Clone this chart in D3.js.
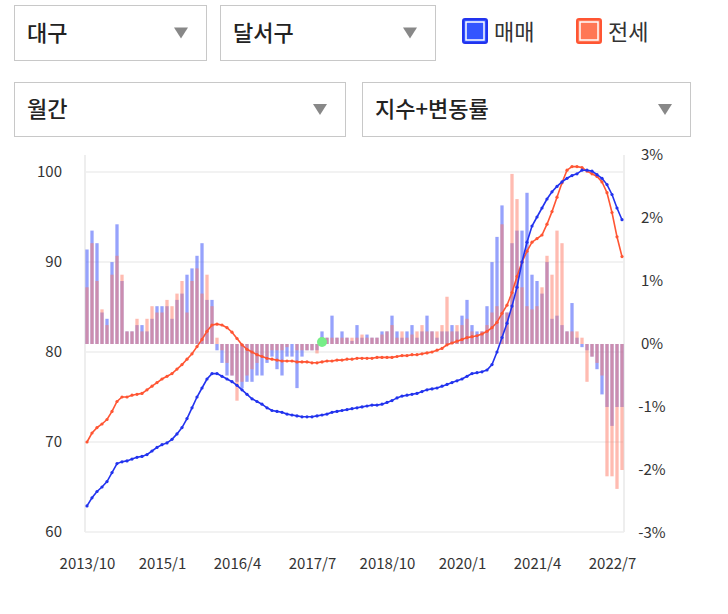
<!DOCTYPE html>
<html>
<head>
<meta charset="utf-8">
<script src="https://d3js.org/d3.v7.min.js"></script>
<style>
  body { margin: 0; background: #fff; }
  text { font-family: "Noto Sans CJK KR", "Noto Sans", sans-serif; }
</style>
</head>
<body>
<div id="chart"></div>
<script>
var width = 728, height = 614;

// data: monthly, 2013/10 .. 2022/9
var tickLabels = ["2013/10", "2015/1", "2016/4", "2017/7", "2018/10", "2020/1", "2021/4", "2022/7"];
var saleIndex = [
  62.9,63.8,64.5,65.0,65.6,66.6,67.6,67.8,67.9,68.1,
  68.3,68.4,68.6,69.0,69.4,69.7,69.9,70.3,70.9,71.6,
  72.6,73.8,75.0,76.0,77.0,77.6,77.6,77.3,77.0,76.7,
  76.3,75.8,75.3,74.8,74.5,74.2,73.8,73.5,73.4,73.3,
  73.1,73.0,72.9,72.8,72.8,72.8,72.9,73.0,73.1,73.3,
  73.4,73.5,73.6,73.7,73.8,73.9,74.0,74.1,74.1,74.2,
  74.4,74.6,74.9,75.1,75.2,75.3,75.4,75.6,75.8,75.9,
  76.0,76.2,76.4,76.6,76.8,77.0,77.3,77.6,77.7,77.8,
  78.0,78.6,80.0,81.6,83.2,85.1,87.2,90.0,92.2,94.0,
  95.0,96.0,97.0,97.8,98.4,98.9,99.3,99.6,99.8,100.2,
  100.2,100.1,99.7,99.3,98.6,97.5,96.0,94.7];
var rentIndex = [
  70.0,71.0,71.6,72.0,72.5,73.4,74.5,75.0,75.0,75.2,
  75.3,75.4,75.8,76.2,76.6,77.0,77.3,77.6,78.1,78.6,
  79.2,79.8,80.6,81.4,82.3,83.0,83.1,83.0,82.7,82.2,
  81.5,80.8,80.3,80.0,79.7,79.5,79.3,79.2,79.1,79.0,
  79.0,79.0,78.9,78.9,78.9,78.8,78.8,78.9,79.0,79.0,
  79.1,79.1,79.2,79.2,79.3,79.3,79.3,79.3,79.4,79.4,
  79.4,79.4,79.5,79.6,79.6,79.7,79.7,79.8,79.9,80.0,
  80.2,80.4,80.8,81.0,81.2,81.4,81.6,81.7,81.8,82.0,
  82.3,82.7,83.3,84.3,85.2,86.6,88.4,90.0,91.2,92.2,
  92.6,93.0,94.2,95.6,97.2,98.8,100.2,100.6,100.6,100.5,
  100.1,99.8,99.5,98.9,97.7,95.5,92.8,90.6];
var saleChange = [
  1.5,1.8,1.6,0.5,0.4,1.3,1.9,1.0,0.2,0.2,
  0.3,0.3,0.2,0.4,0.6,0.6,0.6,0.4,0.7,0.8,
  1.1,1.2,1.4,1.6,0.7,0.7,-0.1,-0.3,-0.5,-0.5,
  -0.6,-0.7,-0.6,-0.6,-0.5,-0.5,-0.3,-0.2,-0.4,-0.5,
  -0.2,-0.2,-0.7,-0.2,-0.1,-0.1,-0.1,0.2,0.1,0.45,
  0.1,0.2,0.1,0.05,0.3,0.1,0.15,0.1,0.1,0.2,
  0.2,0.45,0.2,0.1,0.2,0.3,0.1,0.2,0.45,0.2,
  0.1,0.2,0.2,0.3,0.2,0.45,0.7,0.3,0.2,0.2,
  0.6,1.3,1.7,2.2,0.5,1.6,1.8,1.8,2.4,1.1,
  1.0,0.8,1.3,0.4,0.45,0.3,0.2,0.65,0.1,-0.05,
  -0.1,-0.2,-0.4,-0.8,-1.0,-1.3,-1.0,-1.0];
var rentChange = [
  0.9,1.6,1.0,0.55,0.3,1.1,1.4,1.1,0.2,0.2,
  0.4,0.2,0.4,0.6,0.5,0.5,0.7,0.6,0.8,1.0,
  0.5,1.0,1.2,0.8,1.1,0.6,0.1,-0.1,-0.3,-0.5,
  -0.9,-0.6,-0.5,-0.4,-0.3,-0.2,-0.2,-0.1,-0.1,-0.1,
  -0.05,0,-0.1,-0.1,-0.1,-0.1,-0.15,0.1,0.1,0.1,
  0.1,0.1,0.1,0.1,0.1,0.15,0.1,0.1,0.1,0.15,
  0.2,0.3,0.1,0.2,0.1,0.15,0.2,0.3,0.2,0.2,
  0.2,0.3,0.75,0.2,0.3,0.3,0.4,0.2,0.1,0.2,
  0.3,0.5,0.6,1.9,0.5,2.7,2.3,0.9,0.6,0.55,
  0.6,0.9,1.4,1.1,1.8,1.6,0.2,0.2,0.2,0.1,
  -0.6,-0.2,-0.3,-0.5,-2.1,-2.1,-2.3,-2.0];
var leftTicks = [60, 70, 80, 90, 100];
var rightTicks = [-3, -2, -1, 0, 1, 2, 3];
var highlight = 47;

const svg = d3.select("#chart").append("svg")
  .attr("width", width).attr("height", height);

// --- controls ---
var boxes = [
  { x: 14, y: 5, w: 192, h: 55, label: "대구" },
  { x: 220, y: 5, w: 215, h: 55, label: "달서구" },
  { x: 14, y: 82, w: 331, h: 54, label: "월간" },
  { x: 362, y: 82, w: 328, h: 54, label: "지수+변동률" }
];
var bx = svg.append("g").selectAll("g").data(boxes).enter().append("g");
bx.append("rect").attr("x", d => d.x + 0.5).attr("y", d => d.y + 0.5)
  .attr("width", d => d.w).attr("height", d => d.h)
  .attr("fill", "#fff").attr("stroke", "#c8c8c8");
bx.append("text").attr("x", d => d.x + 13).attr("y", d => d.y + d.h / 2 + 8)
  .attr("font-size", 22).attr("font-weight", 500).attr("fill", "#222").text(d => d.label);
bx.append("path")
  .attr("d", d => { var cx = d.x + d.w - 25, cy = d.y + d.h / 2; return `M${cx-7},${cy-5}L${cx+7},${cy-5}L${cx},${cy+6}Z`; })
  .attr("fill", "#888");

var legend = [
  { x: 463, color: "#2233ee", fill: "#3355ff", label: "매매" },
  { x: 577, color: "#ff5533", fill: "#ff7755", label: "전세" }
];
var lg = svg.append("g").selectAll("g").data(legend).enter().append("g");
lg.append("rect").attr("x", d => d.x).attr("y", 19).attr("width", 24).attr("height", 24)
  .attr("fill", d => d.fill).attr("stroke", d => d.color).attr("stroke-width", 2)
  .attr("rx", 2);
lg.append("rect").attr("x", d => d.x + 3).attr("y", 22).attr("width", 18).attr("height", 18)
  .attr("fill", "none").attr("stroke", "#fff").attr("stroke-width", 1.5);
lg.append("text").attr("x", d => d.x + 31).attr("y", 40)
  .attr("font-size", 22).attr("fill", "#333").text(d => d.label);

// --- chart ---
var x = d3.scaleLinear().domain([0, saleIndex.length - 1]).range([87, 622]);
var yL = d3.scaleLinear().domain([60, 100]).range([532, 172]);
var yR = d3.scaleLinear().domain([-3, 3]).range([533, 155]);

var grid = svg.append("g");
grid.selectAll("line").data(leftTicks).enter().append("line")
  .attr("x1", 85).attr("x2", 624).attr("y1", d => yL(d)).attr("y2", d => yL(d))
  .attr("stroke", "#eeeeee").attr("stroke-width", 1.5);
grid.append("line").attr("x1", 85).attr("x2", 85).attr("y1", 155).attr("y2", 532).attr("stroke", "#eeeeee").attr("stroke-width", 2);
grid.append("line").attr("x1", 624).attr("x2", 624).attr("y1", 155).attr("y2", 532).attr("stroke", "#eeeeee").attr("stroke-width", 2);

var leftAxis = d3.axisLeft(yL).tickValues(leftTicks).tickSize(0).tickPadding(8);
svg.append("g").attr("transform", "translate(70,0)").call(leftAxis)
  .call(g => g.select(".domain").remove())
  .selectAll("text").attr("font-size", 15).attr("fill", "#333");
var rightAxis = d3.axisRight(yR).tickValues(rightTicks).tickSize(0).tickPadding(0)
  .tickFormat(d => d + "%");
svg.append("g").attr("transform", "translate(652,0)").call(rightAxis)
  .call(g => g.select(".domain").remove())
  .selectAll("text").attr("font-size", 15).attr("fill", "#333").attr("text-anchor", "middle");
var xAxis = d3.axisBottom(x).tickValues(d3.range(0, 106, 15)).tickSize(0).tickPadding(0)
  .tickFormat((d, i) => tickLabels[i]);
svg.append("g").attr("transform", "translate(0,558)").call(xAxis)
  .call(g => g.select(".domain").remove())
  .selectAll("text").attr("font-size", 15).attr("fill", "#333");

// bars
var bw = 3.3;
svg.append("g").selectAll("rect").data(saleChange).enter().append("rect")
  .attr("x", (d, i) => x(i) - bw / 2).attr("width", bw)
  .attr("y", d => yR(Math.max(0, d))).attr("height", d => Math.abs(yR(d) - yR(0)))
  .attr("fill", "rgba(80,100,250,0.6)");
svg.append("g").selectAll("rect").data(rentChange).enter().append("rect")
  .attr("x", (d, i) => x(i) - bw / 2).attr("width", bw)
  .attr("y", d => yR(Math.max(0, d))).attr("height", d => Math.abs(yR(d) - yR(0)))
  .attr("fill", "rgba(255,120,100,0.5)");

// lines
var series = [
  { data: rentIndex, color: "#ff5533" },
  { data: saleIndex, color: "#2233ee" }
];
var line = d3.line().x((d, i) => x(i)).y(d => yL(d));
series.forEach(function (s) {
  svg.append("path").datum(s.data).attr("d", line)
    .attr("fill", "none").attr("stroke", s.color).attr("stroke-width", 1.6);
  svg.append("g").selectAll("circle").data(s.data).enter().append("circle")
    .attr("cx", (d, i) => x(i)).attr("cy", d => yL(d)).attr("r", 1.6)
    .attr("fill", s.color);
});

svg.append("circle").attr("cx", x(highlight)).attr("cy", yR(0) - 2).attr("r", 5)
  .attr("fill", "#77ee88");
</script>
</body>
</html>
